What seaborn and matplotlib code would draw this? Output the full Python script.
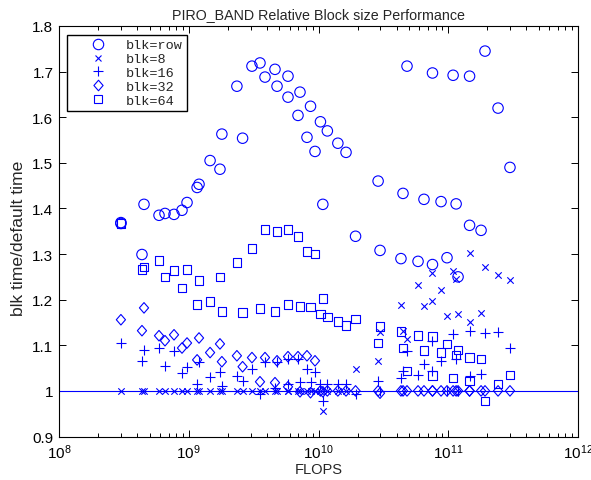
import numpy as np
import pandas as pd
import matplotlib
matplotlib.use("Agg")
import matplotlib.pyplot as plt
import seaborn as sns
from matplotlib.lines import Line2D
from matplotlib.path import Path
from matplotlib.ticker import LogLocator, FixedLocator, NullFormatter, LogFormatterMathtext

sns.set_style("ticks")
plt.rcParams["font.family"] = ["Liberation Sans", "DejaVu Sans"]
plt.rcParams["mathtext.default"] = "regular"

# ---------------- data ----------------
row_flops = [3.0e8, 3.0e8, 4.36e8, 4.52e8, 5.9e8, 6.56e8, 7.7e8, 8.87e8, 9.7e8, 1.16e9,
             1.2e9, 1.46e9, 1.74e9, 1.8e9, 2.35e9, 2.6e9, 3.07e9, 3.54e9, 3.87e9, 4.62e9,
             4.79e9, 5.82e9, 5.82e9, 6.95e9, 7.2e9, 8.15e9, 8.68e9, 9.4e9, 1.035e10, 1.08e10,
             1.17e10, 1.41e10, 1.63e10, 1.93e10, 2.88e10, 2.98e10, 4.32e10, 4.48e10, 4.81e10, 5.85e10,
             6.5e10, 7.56e10, 7.56e10, 8.8e10, 9.78e10, 1.09e11, 1.15e11, 1.19e11, 1.46e11, 1.46e11,
             1.79e11, 1.92e11, 2.42e11, 2.99e11]
row_ratio = [1.367, 1.369, 1.299, 1.409, 1.385, 1.389, 1.387, 1.396, 1.413, 1.446,
             1.453, 1.505, 1.486, 1.563, 1.668, 1.554, 1.712, 1.719, 1.688, 1.705,
             1.668, 1.69, 1.644, 1.604, 1.655, 1.556, 1.624, 1.525, 1.59, 1.409,
             1.57, 1.543, 1.523, 1.339, 1.46, 1.308, 1.29, 1.433, 1.712, 1.284,
             1.42, 1.697, 1.277, 1.415, 1.292, 1.692, 1.41, 1.25, 1.69, 1.363,
             1.352, 1.745, 1.62, 1.49]

flops = [3.0e8, 4.36e8, 4.52e8, 5.9e8, 6.56e8, 7.7e8, 8.87e8, 9.7e8, 1.16e9, 1.2e9,
         1.46e9, 1.74e9, 1.8e9, 2.35e9, 2.6e9, 3.07e9, 3.54e9, 3.87e9, 4.62e9, 4.79e9,
         5.82e9, 5.82e9, 6.95e9, 7.2e9, 8.15e9, 8.68e9, 9.4e9, 1.035e10, 1.08e10, 1.17e10,
         1.41e10, 1.63e10, 1.93e10, 2.88e10, 2.98e10, 4.32e10, 4.48e10, 4.81e10, 5.85e10, 6.5e10,
         7.56e10, 7.56e10, 8.8e10, 9.78e10, 1.09e11, 1.15e11, 1.19e11, 1.46e11, 1.46e11, 1.79e11,
         1.92e11, 2.42e11, 2.99e11]

blk8_ratio = [1.0, 1.0, 1.0, 1.0, 1.0, 1.0, 1.0, 1.0, 1.0, 1.0,
              1.0, 1.0, 1.0, 1.0, 1.0, 1.0, 1.0, 1.0, 1.0, 1.0,
              1.0, 1.0, 1.0, 1.0, 1.0, 1.0, 1.0, 1.0, 0.956, 1.0,
              1.0, 1.0, 1.048, 1.066, 1.13, 1.189, 1.132, 1.114, 1.233, 1.187,
              1.259, 1.198, 1.222, 1.165, 1.262, 1.246, 1.169, 1.303, 1.152, 1.171,
              1.272, 1.255, 1.244]

blk16_ratio = [1.105, 1.066, 1.09, 1.095, 1.055, 1.088, 1.04, 1.053, 1.015, 1.064,
               1.031, 1.042, 1.011, 1.033, 1.022, 1.048, 0.993, 1.064, 1.007, 1.064,
               1.07, 1.015, 1.07, 1.02, 1.048, 1.02, 1.042, 1.015, 0.978, 1.015,
               1.015, 1.015, 0.993, 1.022, 1.0, 1.028, 1.043, 1.088, 1.035, 1.059,
               1.11, 1.044, 1.066, 1.0, 1.125, 1.07, 1.0, 1.132, 1.033, 1.037,
               1.127, 1.13, 1.094]

blk32_ratio = [1.156, 1.132, 1.182, 1.121, 1.11, 1.123, 1.094, 1.105, 1.068, 1.116,
               1.084, 1.103, 1.064, 1.077, 1.053, 1.073, 1.02, 1.073, 1.018, 1.066,
               1.075, 1.009, 1.075, 0.998, 1.077, 0.996, 1.066, 1.0, 0.998, 1.0,
               1.0, 1.0, 1.0, 1.0, 0.995, 1.0, 1.0, 1.0, 1.0, 1.0,
               1.0, 1.0, 1.0, 1.0, 1.0, 1.0, 1.0, 1.0, 1.0, 1.0,
               1.0, 1.0, 1.0]

blk64_ratio = [1.367, 1.266, 1.272, 1.286, 1.25, 1.264, 1.226, 1.266, 1.189, 1.242,
               1.196, 1.25, 1.174, 1.282, 1.172, 1.312, 1.18, 1.354, 1.174, 1.35,
               1.354, 1.189, 1.338, 1.185, 1.306, 1.184, 1.30, 1.169, 1.202, 1.162,
               1.152, 1.143, 1.158, 1.105, 1.141, 1.13, 1.094, 1.044, 1.121, 1.088,
               1.119, 1.034, 1.084, 1.103, 1.028, 1.079, 1.09, 1.073, 1.022, 1.07,
               0.978, 1.015, 1.035]

labels = ["blk=row", "blk=8", "blk=16", "blk=32", "blk=64"]
x_ticks = [1e8, 1e9, 1e10, 1e11, 1e12]
y_ticks = [0.9, 1.0, 1.1, 1.2, 1.3, 1.4, 1.5, 1.6, 1.7, 1.8]
y_ticklabels = ["0.9", "1", "1.1", "1.2", "1.3", "1.4", "1.5", "1.6", "1.7", "1.8"]

# ---------------- styling ----------------
BLUE = "#0000ff"
diamond = Path([(0, 1), (0.87, 0), (0, -1), (-0.87, 0), (0, 1)],
               [Path.MOVETO, Path.LINETO, Path.LINETO, Path.LINETO, Path.CLOSEPOLY])
styles = {
    "blk=row": dict(marker="o", ms=7.5, filled=True),
    "blk=8": dict(marker="x", ms=4.6, filled=False),
    "blk=16": dict(marker="+", ms=6.8, filled=False),
    "blk=32": dict(marker=diamond, ms=7.6, filled=True),
    "blk=64": dict(marker="s", ms=6.2, filled=True),
}
series = {
    "blk=row": (row_flops, row_ratio),
    "blk=8": (flops, blk8_ratio),
    "blk=16": (flops, blk16_ratio),
    "blk=32": (flops, blk32_ratio),
    "blk=64": (flops, blk64_ratio),
}

fig = plt.figure(figsize=(5.91, 4.81), dpi=100)
ax = fig.add_axes([59 / 591, 1 - 437.5 / 481, 519 / 591, 410.5 / 481])

lw = 0.8
for lab in labels:
    xs, ys = series[lab]
    st = styles[lab]
    df = pd.DataFrame({"FLOPS": xs, "ratio": ys})
    if st["filled"]:
        sns.scatterplot(data=df, x="FLOPS", y="ratio", ax=ax, marker=st["marker"],
                        s=st["ms"] ** 2, facecolor="none", edgecolor=BLUE,
                        linewidth=lw, legend=False, zorder=3)
    else:
        sns.scatterplot(data=df, x="FLOPS", y="ratio", ax=ax, marker=st["marker"],
                        s=st["ms"] ** 2, color=BLUE, linewidth=lw, legend=False, zorder=3)

ax.axhline(1.0, color=BLUE, lw=0.8, zorder=2)

ax.set_xscale("log")
ax.set_xlim(1e8, 1e12)
ax.set_ylim(0.9, 1.8)
ax.xaxis.set_major_locator(FixedLocator(x_ticks))
ax.xaxis.set_major_formatter(LogFormatterMathtext())
ax.xaxis.set_minor_locator(LogLocator(base=10, subs=np.arange(2, 10), numticks=20))
ax.xaxis.set_minor_formatter(NullFormatter())
ax.set_yticks(y_ticks)
ax.set_yticklabels(y_ticklabels)

ax.tick_params(axis="both", which="both", direction="in", top=True, right=True,
               labelsize=11, colors="black", width=0.7)
ax.tick_params(axis="both", which="major", length=5, pad=4)
ax.tick_params(axis="x", which="minor", length=3)
for sp in ax.spines.values():
    sp.set_visible(True)
    sp.set_color("black")
    sp.set_linewidth(0.8)

ax.set_xlabel("FLOPS", fontsize=10.5, labelpad=1)
ax.set_ylabel("blk time/default time", fontsize=12.6)
ax.yaxis.set_label_coords(-0.064, 0.486)
ax.set_title("PIRO_BAND Relative Block size Performance", fontsize=10.3, pad=6)

handles = []
for lab in labels:
    st = styles[lab]
    if st["filled"]:
        h = Line2D([], [], ls="none", marker=st["marker"], ms=st["ms"],
                   mfc="none", mec=BLUE, mew=lw)
    else:
        h = Line2D([], [], ls="none", marker=st["marker"], ms=st["ms"],
                   color=BLUE, mew=lw)
    handles.append(h)
leg = ax.legend(handles, labels, loc="upper left",
                bbox_to_anchor=(8 / 519, 1 - 9 / 410.5), borderaxespad=0,
                prop={"family": "Liberation Mono", "size": 9.7},
                handlelength=4.0, handletextpad=0.1, labelspacing=0.1,
                borderpad=0.3, fancybox=False, framealpha=1, edgecolor="black")
leg.get_frame().set_linewidth(1.0)

fig.savefig("out.png", dpi=100)
